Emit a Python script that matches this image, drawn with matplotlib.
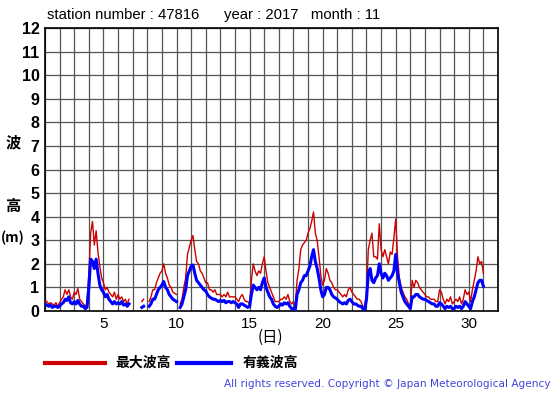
import numpy as np
import matplotlib
matplotlib.use("Agg")
import matplotlib.pyplot as plt
from matplotlib.lines import Line2D

nan = np.nan

# 3-hourly readings per day (day 1 .. day 30), last value = end of day 30
sig_wave = [
    [0.3, 0.25, 0.2, 0.25, 0.15, 0.2, 0.2, 0.15],
    [0.2, 0.3, 0.35, 0.5, 0.45, 0.6, 0.35, 0.3],
    [0.4, 0.3, 0.45, 0.3, 0.2, 0.2, 0.1, 0.15],
    [1.0, 2.2, 2.1, 1.8, 2.2, 1.6, 1.1, 0.9],
    [0.8, 0.6, 0.7, 0.5, 0.4, 0.3, 0.4, 0.3],
    [0.35, 0.3, 0.4, 0.25, 0.3, 0.2, 0.3, nan],
    [nan, nan, nan, nan, nan, 0.15, 0.2, nan],
    [nan, 0.2, 0.3, 0.5, 0.5, 0.7, 0.9, 1.0],
    [1.1, 1.25, 1.0, 0.9, 0.7, 0.6, 0.5, 0.45],
    [0.4, nan, 0.15, 0.3, 0.6, 0.9, 1.5, 1.7],
    [1.9, 1.95, 1.6, 1.3, 1.2, 1.1, 1.0, 0.9],
    [0.85, 0.7, 0.6, 0.55, 0.5, 0.5, 0.45, 0.4],
    [0.45, 0.4, 0.45, 0.35, 0.4, 0.4, 0.35, 0.4],
    [0.35, 0.3, 0.15, 0.3, 0.3, 0.25, 0.2, 0.15],
    [0.2, 0.7, 1.1, 1.0, 0.9, 1.0, 0.9, 1.2],
    [1.4, 1.0, 0.8, 0.6, 0.5, 0.3, 0.2, 0.15],
    [0.2, 0.3, 0.25, 0.35, 0.3, 0.35, 0.2, 0.1],
    [0.1, 0.05, 0.7, 0.9, 1.2, 1.3, 1.5, 1.5],
    [1.7, 1.9, 2.3, 2.6, 2.1, 1.8, 1.4, 0.9],
    [0.6, 0.7, 1.0, 1.0, 0.9, 0.7, 0.6, 0.55],
    [0.5, 0.4, 0.35, 0.3, 0.35, 0.3, 0.45, 0.5],
    [0.4, 0.3, 0.3, 0.25, 0.2, 0.2, 0.1, 0.05],
    [0.5, 1.6, 1.8, 1.3, 1.2, 1.4, 1.5, 2.0],
    [1.6, 1.4, 1.6, 1.5, 1.3, 1.4, 1.5, 1.7],
    [2.4, 1.6, 1.2, 0.8, 0.6, 0.4, 0.3, 0.2],
    [0.1, 0.6, 0.6, 0.7, 0.7, 0.6, 0.55, 0.5],
    [0.5, 0.45, 0.4, 0.35, 0.3, 0.3, 0.2, 0.2],
    [0.35, 0.3, 0.2, 0.1, 0.2, 0.15, 0.2, 0.1],
    [0.1, 0.2, 0.15, 0.2, 0.1, 0.2, 0.4, 0.3],
    [0.2, 0.1, 0.4, 0.6, 0.9, 1.2, 1.3, 1.3],
]
sig_end = 1.05

max_wave = [
    [0.45, 0.4, 0.3, 0.35, 0.3, 0.25, 0.35, 0.2],
    [0.35, 0.5, 0.6, 0.9, 0.7, 0.9, 0.6, 0.5],
    [0.8, 0.7, 0.95, 0.5, 0.4, 0.3, 0.2, 0.3],
    [1.6, 3.3, 3.8, 2.8, 3.4, 2.5, 1.9, 1.4],
    [1.2, 0.9, 1.0, 0.8, 0.7, 0.6, 0.8, 0.5],
    [0.7, 0.5, 0.6, 0.4, 0.5, 0.3, 0.5, nan],
    [nan, nan, nan, nan, nan, 0.4, 0.5, nan],
    [nan, 0.4, 0.6, 0.9, 0.9, 1.2, 1.4, 1.6],
    [1.7, 2.0, 1.6, 1.4, 1.1, 1.0, 0.8, 0.75],
    [0.7, nan, 0.3, 0.5, 1.0, 1.4, 2.4, 2.7],
    [3.0, 3.2, 2.6, 2.1, 2.0, 1.7, 1.6, 1.4],
    [1.2, 1.2, 0.9, 0.9, 0.8, 0.9, 0.7, 0.7],
    [0.7, 0.6, 0.7, 0.6, 0.8, 0.6, 0.6, 0.6],
    [0.6, 0.5, 0.4, 0.6, 0.7, 0.5, 0.4, 0.4],
    [0.3, 1.3, 2.0, 1.7, 1.5, 1.7, 1.6, 2.0],
    [2.3, 1.7, 1.2, 1.0, 0.8, 0.6, 0.4, 0.4],
    [0.4, 0.5, 0.5, 0.6, 0.5, 0.7, 0.4, 0.3],
    [0.4, 0.2, 1.3, 1.8, 2.6, 2.8, 2.9, 3.0],
    [3.3, 3.5, 3.8, 4.2, 3.3, 3.0, 2.3, 1.5],
    [1.1, 1.3, 1.8, 1.6, 1.3, 1.2, 1.0, 0.9],
    [0.9, 0.8, 0.7, 0.6, 0.7, 0.6, 0.9, 1.0],
    [0.8, 0.7, 0.6, 0.5, 0.5, 0.4, 0.2, 0.1],
    [0.8, 2.6, 3.0, 3.3, 2.3, 2.3, 2.2, 3.7],
    [2.6, 2.3, 2.6, 2.3, 2.0, 2.5, 2.4, 3.1],
    [3.9, 2.3, 1.4, 1.0, 0.8, 0.6, 0.5, 0.3],
    [0.2, 1.3, 1.0, 1.3, 1.2, 1.0, 0.9, 0.8],
    [0.7, 0.6, 0.6, 0.5, 0.5, 0.5, 0.4, 0.4],
    [0.9, 0.8, 0.5, 0.3, 0.5, 0.4, 0.6, 0.3],
    [0.4, 0.5, 0.4, 0.6, 0.3, 0.5, 0.9, 0.7],
    [0.8, 0.4, 0.9, 1.3, 1.7, 2.3, 2.0, 2.1],
]
max_end = 1.6

x_ticks = [5, 10, 15, 20, 25, 30]
y_ticks = list(range(0, 13))

sig = np.append(np.ravel(sig_wave), sig_end)
mx = np.append(np.ravel(max_wave), max_end)
t = 1 + np.arange(len(sig)) / 8.0

jp = ['Noto Sans CJK JP', 'DejaVu Sans']

fig = plt.figure(figsize=(5.55, 3.95), dpi=100)
ax = fig.add_axes([45 / 555, 84 / 395, 453 / 555, 283 / 395])

ax.plot(t, mx, color='#cc0000', lw=1.0, zorder=3)
ax.plot(t, sig, color='#0000ff', lw=2.2, zorder=4)

ax.set_xlim(1, 32)
ax.set_ylim(0, 12)
ax.set_xticks(np.arange(1, 33))
ax.set_xticklabels([str(d) if d in x_ticks else '' for d in range(1, 33)],
                   fontsize=11, family='Liberation Sans')
ax.set_yticks(y_ticks)
ax.set_yticklabels([str(v) for v in y_ticks], fontsize=11.5,
                   fontweight='bold', family='Liberation Sans')
ax.tick_params(length=0, pad=4)
ax.grid(True, color='#555555', lw=0.9)
for s in ax.spines.values():
    s.set_linewidth(1.2)

fig.text(47 / 555, 1 - 15 / 395, 'station number : 47816      year : 2017   month : 11',
         fontsize=10.7, family='Liberation Sans', va='center')

fig.text(13 / 555, 1 - 142 / 395, '波', family=jp, fontsize=11, fontweight='bold',
         ha='center', va='center')
fig.text(13 / 555, 1 - 206 / 395, '高', family=jp, fontsize=11, fontweight='bold',
         ha='center', va='center')
fig.text(13 / 555, 1 - 238 / 395, '(m)', family=jp, fontsize=10, fontweight='bold',
         ha='center', va='center')
fig.text(270 / 555, 1 - 337 / 395, '(日)', family=jp, fontsize=11,
         ha='center', va='center')

fig.add_artist(Line2D([45 / 555, 105 / 555], [1 - 363 / 395] * 2, color='#cc0000', lw=3))
fig.text(115 / 555, 1 - 363 / 395, '最大波高', family=jp, fontsize=10, fontweight='bold',
         va='center')
fig.add_artist(Line2D([177 / 555, 231 / 555], [1 - 363 / 395] * 2, color='#0000ff', lw=3))
fig.text(243 / 555, 1 - 363 / 395, '有義波高', family=jp, fontsize=10, fontweight='bold',
         va='center')

fig.text(551 / 555, 1 - 384 / 395,
         'All rights reserved. Copyright \u00a9 Japan Meteorological Agency',
         fontsize=7.6, color='#4444dd', ha='right', va='center',
         family='DejaVu Sans')

fig.savefig('out.png', dpi=100)
